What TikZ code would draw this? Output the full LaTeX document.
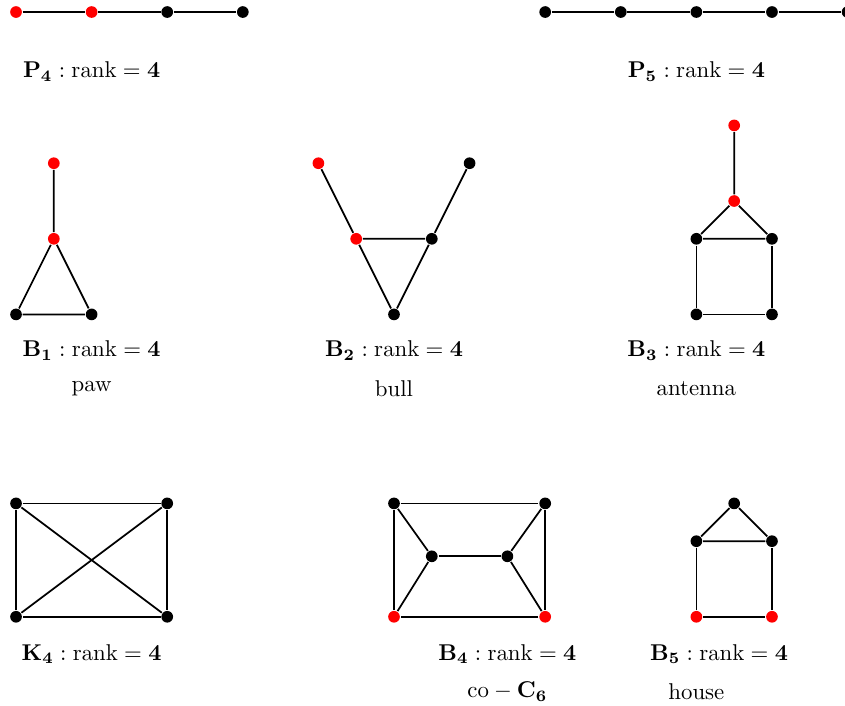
\documentclass[tikz,border=0pt]{standalone}
\usepackage{amsmath}
\begin{document}
\begin{tikzpicture}[vtx/.style={circle, fill=black, inner sep=0pt, minimum size=4.4pt},
    rvtx/.style={circle, fill=red, inner sep=0pt, minimum size=4.4pt},
    lbl/.style={scale=0.86},
    every path/.style={line width=0.65pt}]
    \useasboundingbox (-0.212,0.159) rectangle (10.966,-9.18);

    % Paths - top row
    \node[rvtx] (p1) at (0,0) {};
    \node[rvtx] (p2) at (1,0) {};
    \node[vtx] (p3) at (2,0) {};
    \node[vtx] (p4) at (3,0) {};
    \draw (p1) -- (p2) -- (p3) -- (p4);

    \node[vtx] (q1) at (7,0) {};
    \node[vtx] (q2) at (8,0) {};
    \node[vtx] (q3) at (9,0) {};
    \node[vtx] (q4) at (10,0) {};
    \node[vtx] (q5) at (11,0) {};
    \draw (q1) -- (q2) -- (q3) -- (q4) -- (q5);

    \node[lbl] (lp4) at (1,-0.79) {$\mathbf{P_4} : \mathrm{rank} = \mathbf{4}$};
    \node[lbl] (lp5) at (9,-0.79) {$\mathbf{P_5} : \mathrm{rank} = \mathbf{4}$};

    % Paw
    \node[rvtx] (a1) at (0.5,-2) {};
    \node[rvtx] (a2) at (0.5,-3) {};
    \node[vtx] (a3) at (0,-4) {};
    \node[vtx] (a4) at (1,-4) {};
    \draw (a1) -- (a2) -- (a3) -- (a4) -- (a2);

    % Bull
    \node[rvtx] (b1) at (4,-2) {};
    \node[vtx] (b2) at (6,-2) {};
    \node[rvtx] (b3) at (4.5,-3) {};
    \node[vtx] (b4) at (5.5,-3) {};
    \node[vtx] (b5) at (5,-4) {};
    \draw (b1) -- (b3) -- (b4) -- (b2);
    \draw (b3) -- (b5) -- (b4);

    % Antenna
    \node[rvtx] (c1) at (9.5,-1.5) {};
    \node[rvtx] (c2) at (9.5,-2.5) {};
    \node[vtx] (c3) at (9,-3) {};
    \node[vtx] (c4) at (10,-3) {};
    \node[vtx] (c5) at (9,-4) {};
    \node[vtx] (c6) at (10,-4) {};
    \draw (c1) -- (c2) -- (c3) -- (c4) -- (c2);
    \draw (c3) -- (c5) -- (c6) -- (c4);

    \node[lbl] (lb1) at (1,-4.48) {$\mathbf{B_1} : \mathrm{rank} = \mathbf{4}$};
    \node[lbl] (lb2) at (5,-4.48) {$\mathbf{B_2} : \mathrm{rank} = \mathbf{4}$};
    \node[lbl] (lb3) at (9,-4.48) {$\mathbf{B_3} : \mathrm{rank} = \mathbf{4}$};
    \node[lbl] (npaw) at (1,-4.98) {paw};
    \node[lbl] (nbull) at (5,-4.98) {bull};
    \node[lbl] (nant) at (9,-4.98) {antenna};

    % K4
    \node[vtx] (k1) at (0,-6.5) {};
    \node[vtx] (k2) at (2,-6.5) {};
    \node[vtx] (k3) at (0,-8) {};
    \node[vtx] (k4) at (2,-8) {};
    \draw (k1) -- (k2) -- (k4) -- (k3) -- (k1);
    \draw (k1) -- (k4);
    \draw (k2) -- (k3);

    % co-C6
    \node[vtx] (d1) at (5,-6.5) {};
    \node[vtx] (d2) at (7,-6.5) {};
    \node[vtx] (d3) at (5.5,-7.2) {};
    \node[vtx] (d4) at (6.5,-7.2) {};
    \node[rvtx] (d5) at (5,-8) {};
    \node[rvtx] (d6) at (7,-8) {};
    \draw (d1) -- (d2) -- (d6) -- (d5) -- (d1);
    \draw (d1) -- (d3) -- (d5);
    \draw (d2) -- (d4) -- (d6);
    \draw (d3) -- (d4);

    % House
    \node[vtx] (h1) at (9.5,-6.5) {};
    \node[vtx] (h2) at (9,-7) {};
    \node[vtx] (h3) at (10,-7) {};
    \node[rvtx] (h4) at (9,-8) {};
    \node[rvtx] (h5) at (10,-8) {};
    \draw (h1) -- (h2) -- (h3) -- (h1);
    \draw (h2) -- (h4) -- (h5) -- (h3);

    \node[lbl] (lk4) at (1,-8.49) {$\mathbf{K_4} : \mathrm{rank} = \mathbf{4}$};
    \node[lbl] (lb4) at (6.5,-8.49) {$\mathbf{B_4} : \mathrm{rank} = \mathbf{4}$};
    \node[lbl] (lb5) at (9.3,-8.49) {$\mathbf{B_5} : \mathrm{rank} = \mathbf{4}$};
    \node[lbl] (nco) at (6.5,-8.99) {$\mathrm{co} - \mathbf{C_6}$};
    \node[lbl] (nhouse) at (9,-8.99) {house};
\end{tikzpicture}
\end{document}
